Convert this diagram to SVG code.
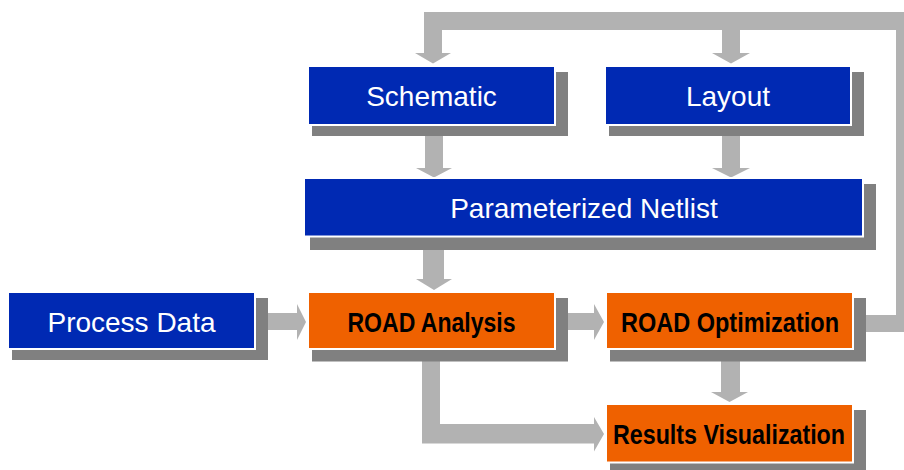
<svg xmlns="http://www.w3.org/2000/svg" width="904" height="470" viewBox="0 0 904 470">
<style>
.conn{fill:#B2B2B2}
.shadow{fill:#808080}
.blue{fill:#0029B3;stroke:#FFFFFF;stroke-width:2}
.orange{fill:#EF6100;stroke:#FFFFFF;stroke-width:2}
.wt{font-family:"Liberation Sans",Arial,sans-serif;font-size:28px;fill:#FFFFFF;text-anchor:middle}
.bt{font-family:"Liberation Sans Narrow","Arial Narrow","Liberation Sans",sans-serif;font-weight:bold;font-size:28px;fill:#000000;text-anchor:middle}
</style>
<rect width="904" height="470" fill="#FFFFFF"/>
<g id="connectors">
  <!-- feedback from ROAD Optimization to Schematic and Layout -->
  <polygon class="conn" points="862,315 896,315 896,30 740,30 740,53 750,53 731,63.5 712,53 722,53 722,30 442,30 442,53 451,53 433,63.5 415,53 424,53 424,12 914,12 914,332 862,332"/>
  <!-- Schematic to Netlist -->
  <polygon class="conn" points="425,130 443,130 443,168 452,168 434,177.5 416,168 425,168"/>
  <!-- Layout to Netlist -->
  <polygon class="conn" points="722,130 740,130 740,168 750,168 731,177.5 712,168 722,168"/>
  <!-- Netlist to ROAD Analysis -->
  <polygon class="conn" points="423,244 444,244 444,279 452,279 434,290 416,279 423,279"/>
  <!-- Process Data to ROAD Analysis -->
  <polygon class="conn" points="262,313 297,313 297,304 306,322 297,340 297,330 262,330"/>
  <!-- ROAD Analysis to ROAD Optimization -->
  <polygon class="conn" points="562,313 594,313 594,304 604,322 594,340 594,330 562,330"/>
  <!-- ROAD Optimization to Results Visualization -->
  <polygon class="conn" points="721,356 740,356 740,392 748,392 729.5,402 711,392 721,392"/>
  <!-- ROAD Analysis to Results Visualization -->
  <polygon class="conn" points="422,356 440,356 440,424 594,424 594,417 604,434 594,451.5 594,443.5 422,443.5"/>
</g>
<g id="node-schematic">
  <rect class="shadow" x="312" y="72" width="256" height="64"/>
  <rect class="blue" x="308" y="66" width="247" height="59"/>
  <text class="wt" x="431.5" y="106">Schematic</text>
</g>
<g id="node-layout">
  <rect class="shadow" x="609" y="72" width="255" height="64"/>
  <rect class="blue" x="605" y="66" width="246" height="59"/>
  <text class="wt" x="728" y="106">Layout</text>
</g>
<g id="node-netlist">
  <rect class="shadow" x="310" y="184" width="566" height="66"/>
  <rect class="blue" x="304" y="178" width="559" height="58.5"/>
  <text class="wt" x="584" y="218">Parameterized Netlist</text>
</g>
<g id="node-process-data">
  <rect class="shadow" x="12" y="298" width="256" height="62"/>
  <rect class="blue" x="8" y="292" width="247" height="57"/>
  <text class="wt" x="131.5" y="332">Process Data</text>
</g>
<g id="node-road-analysis">
  <rect class="shadow" x="312" y="298" width="256" height="63.5"/>
  <rect class="orange" x="308" y="292" width="247" height="57"/>
  <text class="bt" x="431.5" y="332" textLength="168" lengthAdjust="spacingAndGlyphs">ROAD Analysis</text>
</g>
<g id="node-road-optimization">
  <rect class="shadow" x="610" y="298" width="256" height="63.5"/>
  <rect class="orange" x="606" y="292" width="247" height="57"/>
  <text class="bt" x="730" y="332" textLength="218" lengthAdjust="spacingAndGlyphs">ROAD Optimization</text>
</g>
<g id="node-results-visualization">
  <rect class="shadow" x="610" y="410" width="256" height="66"/>
  <rect class="orange" x="606" y="404" width="247" height="58.5"/>
  <text class="bt" x="729" y="443.5" textLength="232" lengthAdjust="spacingAndGlyphs">Results Visualization</text>
</g>
</svg>
